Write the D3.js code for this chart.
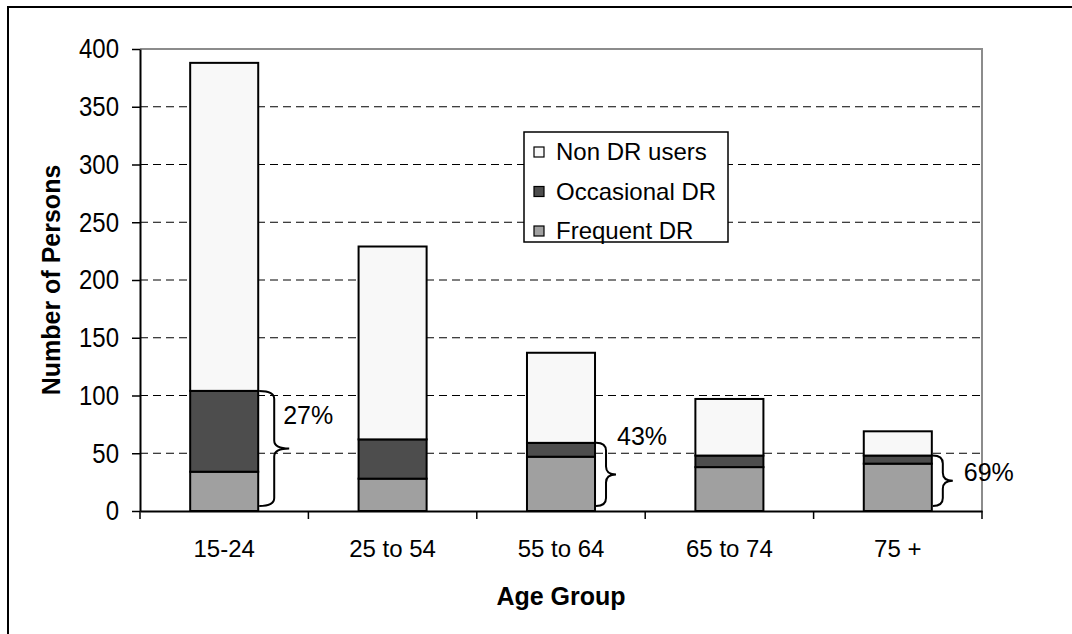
<!DOCTYPE html>
<html>
<head>
<meta charset="utf-8">
<script src="https://cdn.jsdelivr.net/npm/d3@7"></script>
<style>
  body { margin: 0; background: #fff; }
  svg text { font-family: "Liberation Sans", Arial, sans-serif; fill: #000; }
  .yaxis text, .xaxis text { font-size: 24px; }
  .axisTitle { font-size: 25px; font-weight: bold; }
  .legend text { font-size: 24px; }
  .pct { font-size: 25px; }
</style>
</head>
<body>
<div id="chart"></div>
<script>
var ageGroups    = ["15-24", "25 to 54", "55 to 64", "65 to 74", "75 +"];
var frequentDR   = [34, 28, 47, 38, 41];
var occasionalDR = [70, 34, 12, 10, 7];
var nonDRUsers   = [284, 167, 78, 49, 21];
var pctLabels    = ["27%", "", "43%", "", "69%"];
var yTicks       = [0, 50, 100, 150, 200, 250, 300, 350, 400];

var seriesNames  = ["Frequent DR", "Occasional DR", "Non DR users"];
var seriesColors = ["#a0a0a0", "#4d4d4d", "#f8f8f8"];

var StackChart = function(opts) {
  this.element = opts.element;
  this.margin  = opts.margin;
  this.fullW   = opts.width;
  this.fullH   = opts.height;
  this.width   = opts.width - this.margin.left - this.margin.right;
  this.height  = opts.height - this.margin.top - this.margin.bottom;

  // rows for the stack
  this.rows = ageGroups.map(function(g, i) {
    return { group: g, "Frequent DR": frequentDR[i], "Occasional DR": occasionalDR[i], "Non DR users": nonDRUsers[i], pct: pctLabels[i] };
  });

  this.draw();
}

StackChart.prototype.draw = function() {
  var svg = this.element.append("svg")
    .attr("width", this.fullW)
    .attr("height", this.fullH);

  // outer frame (only top and left visible in the original)
  svg.append("rect")
    .attr("x", 8).attr("y", 7)
    .attr("width", this.fullW + 20).attr("height", this.fullH + 20)
    .attr("fill", "none").attr("stroke", "#000").attr("stroke-width", 2);

  this.svg = svg;
  this.plot = svg.append("g")
    .attr("transform", "translate(" + this.margin.left + "," + this.margin.top + ")");

  this.createScales();
  this.addGrid();
  this.addBars();
  this.addAxes();
  this.addBraces();
  this.addLegend();
}

StackChart.prototype.createScales = function() {
  this.xScale = d3.scaleBand()
    .domain(ageGroups)
    .range([0, this.width])
    .padding(0);

  this.yScale = d3.scaleLinear()
    .domain([0, 400])
    .range([this.height, 0]);

  this.barW = this.xScale.bandwidth() * 0.404;
}

StackChart.prototype.addGrid = function() {
  var _this = this;

  this.plot.selectAll(".grid")
    .data(yTicks.filter(d => d > 0 && d < 400))
    .enter().append("line")
    .attr("class", "grid")
    .attr("x1", 0).attr("x2", this.width)
    .attr("y1", d => _this.yScale(d)).attr("y2", d => _this.yScale(d))
    .attr("stroke", "#000")
    .attr("stroke-dasharray", "8,5");

  // plot area border top / right in grey
  this.plot.append("path")
    .attr("d", "M0," + this.yScale(400) + "H" + this.width + "V" + this.yScale(0))
    .attr("fill", "none")
    .attr("stroke", "#8c8c8c")
    .attr("stroke-width", 2);
}

StackChart.prototype.addBars = function() {
  var _this = this;
  var stacked = d3.stack().keys(seriesNames)(this.rows);

  var layers = this.plot.selectAll(".layer")
    .data(stacked)
    .enter().append("g")
    .attr("class", "layer")
    .attr("fill", (d, i) => seriesColors[i]);

  layers.selectAll("rect")
    .data(d => d)
    .enter().append("rect")
    .attr("x", d => _this.xScale(d.data.group) + (_this.xScale.bandwidth() - _this.barW) / 2)
    .attr("width", this.barW)
    .attr("y", d => _this.yScale(d[1]))
    .attr("height", d => _this.yScale(d[0]) - _this.yScale(d[1]))
    .attr("stroke", "#000")
    .attr("stroke-width", 2);
}

StackChart.prototype.addAxes = function() {
  var _this = this;

  var yAxis = d3.axisLeft(this.yScale)
    .tickValues(yTicks)
    .tickSize(8)
    .tickSizeOuter(0)
    .tickPadding(13);

  var gy = this.plot.append("g")
    .attr("class", "yaxis")
    .call(yAxis);
  gy.select(".domain").attr("stroke", "#000").attr("stroke-width", 2);
  gy.selectAll(".tick line").attr("stroke", "#000").attr("stroke-width", 1.5);
  // original labels look a bit taller than wide
  gy.selectAll(".tick text").attr("transform", "scale(1,1.15)");

  var xAxis = d3.axisBottom(this.xScale)
    .tickSize(0)
    .tickPadding(29);

  var gx = this.plot.append("g")
    .attr("class", "xaxis")
    .attr("transform", "translate(0," + this.height + ")")
    .call(xAxis);
  gx.select(".domain").attr("stroke", "#000").attr("stroke-width", 2);

  // ticks between categories
  var step = this.xScale.step();
  gx.selectAll(".sep")
    .data(d3.range(ageGroups.length + 1))
    .enter().append("line")
    .attr("class", "sep")
    .attr("x1", d => d * step).attr("x2", d => d * step)
    .attr("y1", 0).attr("y2", 8)
    .attr("stroke", "#000")
    .attr("stroke-width", 1.5);

  this.plot.append("text")
    .attr("class", "axisTitle")
    .attr("x", this.width / 2)
    .attr("y", this.height + 94)
    .attr("text-anchor", "middle")
    .text("Age Group");

  this.plot.append("text")
    .attr("class", "axisTitle")
    .attr("transform", "translate(" + (60 - this.margin.left) + "," + (this.height / 2) + ") rotate(-90)")
    .attr("text-anchor", "middle")
    .text("Number of Persons");
}

StackChart.prototype.addBraces = function() {
  var _this = this;
  // label offsets from the brace tip, as laid out in the original
  var labelOffset = { "27%": [-6, -24], "43%": [1, -29], "69%": [11, 0] };

  var data = this.rows.filter(d => d.pct);

  var g = this.plot.selectAll(".brace")
    .data(data)
    .enter().append("g")
    .attr("class", "brace");

  g.append("path")
    .attr("fill", "none")
    .attr("stroke", "#000")
    .attr("stroke-width", 2)
    .attr("d", function(d) {
      var x  = _this.xScale(d.group) + (_this.xScale.bandwidth() + _this.barW) / 2 + 1;
      var y1 = _this.yScale(d["Frequent DR"] + d["Occasional DR"]);
      var y2 = _this.yScale(0) - 5;
      var w  = (y2 - y1) > 90 ? 30 : 20;
      var h  = w / 2, ym = (y1 + y2) / 2, r = 8;
      return "M" + x + "," + y1 +
        "Q" + (x + h) + "," + y1 + " " + (x + h) + "," + (y1 + r) +
        "L" + (x + h) + "," + (ym - r) +
        "Q" + (x + h) + "," + ym + " " + (x + w) + "," + ym +
        "Q" + (x + h) + "," + ym + " " + (x + h) + "," + (ym + r) +
        "L" + (x + h) + "," + (y2 - r) +
        "Q" + (x + h) + "," + y2 + " " + x + "," + y2;
    });

  g.append("text")
    .attr("class", "pct")
    .attr("x", function(d) {
      var x = _this.xScale(d.group) + (_this.xScale.bandwidth() + _this.barW) / 2 + 1;
      var y1 = _this.yScale(d["Frequent DR"] + d["Occasional DR"]);
      var w = (_this.yScale(0) - 5 - y1) > 90 ? 30 : 20;
      return x + w + labelOffset[d.pct][0];
    })
    .attr("y", function(d) {
      var y1 = _this.yScale(d["Frequent DR"] + d["Occasional DR"]);
      var ym = (y1 + _this.yScale(0) - 5) / 2;
      return ym + labelOffset[d.pct][1];
    })
    .text(d => d.pct);
}

StackChart.prototype.addLegend = function() {
  var order = [2, 1, 0]; // top to bottom as shown

  var lg = this.svg.append("g")
    .attr("class", "legend")
    .attr("transform", "translate(524,132)");

  lg.append("rect")
    .attr("width", 204).attr("height", 110)
    .attr("fill", "#fff").attr("stroke", "#000").attr("stroke-width", 1.5);

  var items = lg.selectAll(".item")
    .data(order)
    .enter().append("g")
    .attr("class", "item")
    .attr("transform", (d, i) => "translate(10," + (20 + i * 39.5) + ")");

  items.append("rect")
    .attr("x", 0).attr("y", -5)
    .attr("width", 10).attr("height", 10)
    .attr("fill", d => seriesColors[d])
    .attr("stroke", "#000").attr("stroke-width", 1.2);

  items.append("text")
    .attr("x", 22)
    .attr("dy", "0.35em")
    .text(d => seriesNames[d]);
}

new StackChart({
  element: d3.select("#chart"),
  width: 1072,
  height: 634,
  margin: { top: 49, right: 90, bottom: 123, left: 140 }
});
</script>
</body>
</html>
